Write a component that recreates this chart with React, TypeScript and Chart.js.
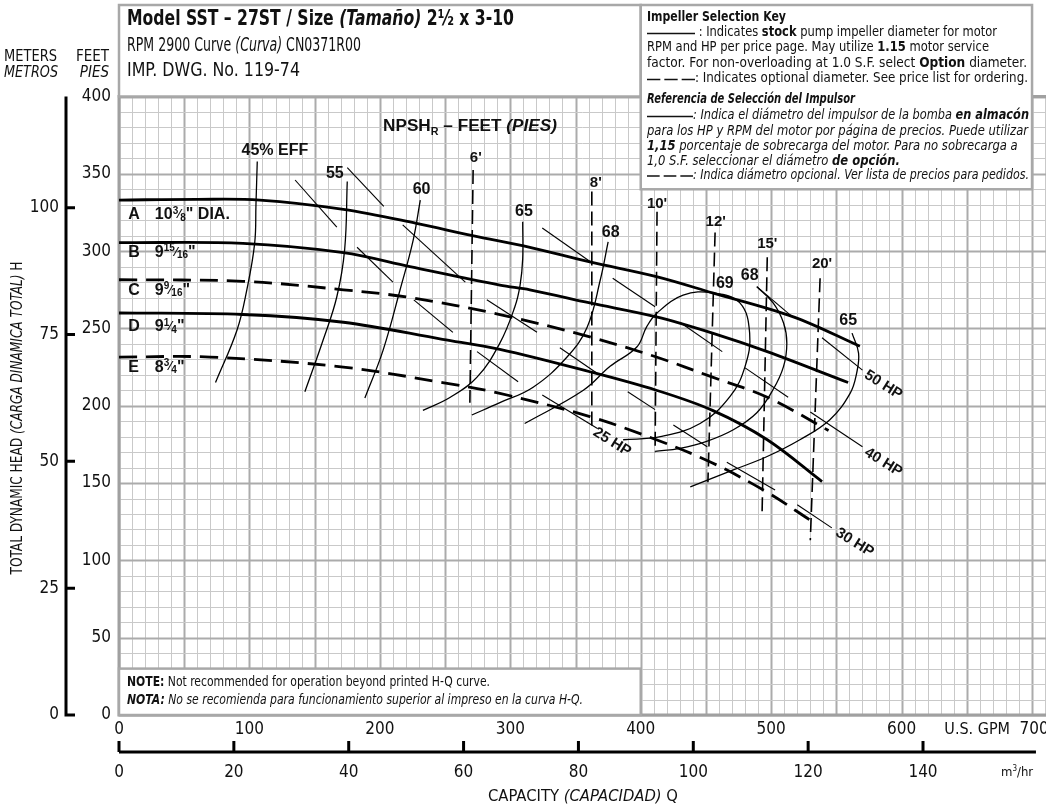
import React, { useEffect, useRef } from "react";
import { Chart, registerables } from "chart.js";

Chart.register(...registerables);

// ---------- axis values ----------
const gpmTicks = [0, 100, 200, 300, 400, 500, 600, 700];
const m3hTicks = [0, 20, 40, 60, 80, 100, 120, 140];
const feetTicks = [0, 50, 100, 150, 200, 250, 300, 350, 400];
const meterTicks = [0, 25, 50, 75, 100];
const GPM_PER_M3H = 4.4029;
const FT_PER_M = 3.28084;

type P = [number, number];

// ---------- head-capacity curves (GPM, feet) ----------
const headA: P[] = [[0, 333], [60, 333.5], [108, 333], [172, 327], [228, 318], [271, 310], [315, 302.5], [361, 293], [412, 283.5], [455, 273], [517, 257.5], [568, 238.5]];
const headB: P[] = [[0, 305.5], [95, 305], [172, 299], [223, 290], [292, 278], [315, 275], [361, 266.5], [412, 257.5], [455, 247], [497, 235], [559, 215]];
const headC: P[] = [[0, 281.5], [95, 280.5], [172, 275], [223, 270], [292, 259], [361, 244.5], [412, 231.5], [455, 218.5], [497, 205.5], [544, 184]];
const headD: P[] = [[0, 260], [95, 259], [172, 254], [248, 243], [292, 236.5], [361, 222], [412, 210], [455, 197], [497, 178], [539, 151]];
const headE: P[] = [[0, 231.5], [70, 231.5], [172, 225], [248, 215], [292, 208], [361, 193], [412, 178], [455, 163], [497, 144], [530, 126]];
const diaLetters = ["A", "B", "C", "D", "E"];

// ---------- efficiency curves ----------
const eff45: P[] = [[106, 358], [105, 330], [104, 305], [98, 275], [90.5, 249], [74, 215]];
const eff55: P[] = [[175, 345], [173, 301], [167, 270.5], [156.5, 242.5], [142.5, 209]];
const eff60: P[] = [[231, 333], [225.5, 307], [215.5, 275], [202.5, 236], [188.5, 205]];
const eff65a: P[] = [[309.5, 319], [309.5, 295], [307.5, 278], [303.5, 264], [292, 240.5], [274.5, 218.5], [254, 205.5], [233, 197]];
const eff68a: P[] = [[375, 306], [369, 281.5], [359, 251], [343.5, 231.5], [317.5, 212], [292, 202], [270.5, 194]];
const eff69: P[] = [[311, 188.5], [356, 210], [376.5, 225.5], [397, 238], [404.5, 251], [412.5, 260], [432.5, 271.5], [455.5, 273], [476, 266.5], [483.5, 247], [480, 225.5], [468.5, 206], [445.5, 188.5], [415, 180], [386.5, 178]];
const eff68b: P[] = [[489, 277], [501.5, 266.5], [509.5, 253.5], [512, 240.5], [509.5, 225.5], [501.5, 210.5], [489, 195.5], [471, 184.5], [450.5, 177], [430, 172.5], [411, 170.5]];
const eff65b: P[] = [[562, 247], [567, 234], [565.5, 221], [560.5, 208], [545, 191], [522, 178], [496.5, 167], [471, 158.5], [438, 147.5]];
const effNames = ["45% EFF", "55", "60", "65", "68", "69", "68", "65"];

// ---------- NPSHr lines ----------
const npsh6: P[] = [[271.5, 352.5], [269, 202]];
const npsh8: P[] = [[362.5, 338.5], [362.5, 185.5]];
const npsh10: P[] = [[412.5, 325.5], [411, 170]];
const npsh12: P[] = [[457, 312], [451.5, 150.5]];
const npsh15: P[] = [[497, 296], [493, 129.5]];
const npsh20: P[] = [[537.5, 282.5], [530, 113]];
const npshNames = ["6'", "8'", "10'", "12'", "15'", "20'"];

// ---------- motor HP limit segments ----------
const hpSegments: P[][] = [
  [[135, 346], [167, 315.5]],
  [[175, 354], [203, 329]],
  [[182.5, 302.5], [210, 280]],
  [[217.5, 317], [265.5, 280]],
  [[226, 268.5], [256, 247.5]],
  [[282, 268.5], [320.5, 247.5]],
  [[274.5, 235], [306, 215.5]],
  [[324.5, 315], [362.5, 292.5]],
  [[378.5, 282.5], [411, 264]],
  [[338, 237.5], [366.5, 221]],
  [[430, 254], [462.5, 235]],
  [[390, 209], [411, 197.5]],
  [[324.5, 207], [366.5, 185.5]],
  [[425, 187.5], [451, 173.5]],
  [[480, 224.5], [513, 205.5]],
  [[539, 244], [570, 223]],
  [[530, 196], [570, 173.5]],
  [[466, 163.5], [503, 145.5]],
  [[520, 136], [546.5, 121]],
  [[489, 277], [517, 257]],
];
const hpNames = ["25 HP", "30 HP", "40 HP", "50 HP"];

// ---------- annotation anchors (GPM, feet) ----------
const effLabelAt: P[] = [[119.5, 365], [165.5, 350], [232, 340], [310.5, 325.5], [377, 312], [464.5, 279], [483.5, 284], [559, 255]];
const npshLabelAt: P[] = [[273.5, 360], [365.5, 344], [412.5, 330.5], [457.5, 319], [497, 304.5], [539, 291.5]];
const hpLabelAt: P[] = [[378, 176.5], [564, 111.5], [586, 163.5], [586, 213.5]];
const diaLabelAt = [323.5, 299, 274.5, 251, 225];

const NARROW = '"Liberation Sans Narrow", "DejaVu Sans Condensed", "Arial Narrow", sans-serif';
const SANS = '"Liberation Sans", Arial, Helvetica, sans-serif';

type Seg = { t?: string; b?: boolean; i?: boolean; size?: number; dy?: number; line?: "solid" | "dash"; w?: number };

function fnt(s: Seg, size: number, fam: string) {
  return `${s.i ? "italic " : ""}${s.b ? "bold " : ""}${s.size ?? size}px ${fam}`;
}

function measure(ctx: CanvasRenderingContext2D, segs: Seg[], size: number, fam: string) {
  let textW = 0;
  let fixedW = 0;
  const ws = segs.map((s) => {
    if (s.line) {
      fixedW += s.w ?? 30;
      return s.w ?? 30;
    }
    ctx.font = fnt(s, size, fam);
    const w = ctx.measureText(s.t ?? "").width;
    textW += w;
    return w;
  });
  return { ws, textW, fixedW };
}

function rich(
  ctx: CanvasRenderingContext2D,
  segs: Seg[],
  x: number,
  y: number,
  size: number,
  fam: string,
  opt: { end?: number; width?: number; sx?: number; align?: "left" | "center" | "right"; rot?: number } = {}
) {
  ctx.save();
  ctx.fillStyle = "#111";
  ctx.textBaseline = "middle";
  ctx.textAlign = "left";
  const { ws, textW, fixedW } = measure(ctx, segs, size, fam);
  let target: number | undefined = opt.width;
  if (opt.end !== undefined) target = opt.end - x;
  let sx = opt.sx ?? 1;
  if (target !== undefined && textW > 0) sx = (target - fixedW) / textW;
  const total = textW * sx + fixedW;
  ctx.translate(x, y);
  if (opt.rot) ctx.rotate(opt.rot);
  let cx = 0;
  if (opt.align === "center") cx = -total / 2;
  else if (opt.align === "right") cx = -total;
  segs.forEach((s, k) => {
    if (s.line) {
      ctx.save();
      ctx.strokeStyle = "#111";
      ctx.lineWidth = 1.6;
      if (s.line === "dash") ctx.setLineDash([(ws[k] - 8) / 3, 4]);
      ctx.beginPath();
      ctx.moveTo(cx, 1);
      ctx.lineTo(cx + ws[k], 1);
      ctx.stroke();
      ctx.restore();
      cx += ws[k];
      return;
    }
    ctx.save();
    ctx.translate(cx, s.dy ?? 0);
    ctx.scale(sx, 1);
    ctx.font = fnt(s, size, fam);
    ctx.fillText(s.t ?? "", 0, 0);
    ctx.restore();
    cx += ws[k] * sx;
  });
  ctx.restore();
}

const diaText: Seg[][] = [
  [{ t: "10", b: true }, { t: "3", b: true, size: 10, dy: -4 }, { t: "\u2044", b: true, size: 12 }, { t: "8", b: true, size: 10, dy: 3 }, { t: '" DIA.', b: true }],
  [{ t: "9", b: true }, { t: "15", b: true, size: 10, dy: -4 }, { t: "\u2044", b: true, size: 12 }, { t: "16", b: true, size: 10, dy: 3 }, { t: '"', b: true }],
  [{ t: "9", b: true }, { t: "9", b: true, size: 10, dy: -4 }, { t: "\u2044", b: true, size: 12 }, { t: "16", b: true, size: 10, dy: 3 }, { t: '"', b: true }],
  [{ t: "9", b: true }, { t: "1", b: true, size: 10, dy: -4 }, { t: "\u2044", b: true, size: 12 }, { t: "4", b: true, size: 10, dy: 3 }, { t: '"', b: true }],
  [{ t: "8", b: true }, { t: "3", b: true, size: 10, dy: -4 }, { t: "\u2044", b: true, size: 12 }, { t: "4", b: true, size: 10, dy: 3 }, { t: '"', b: true }],
];

// lines with "end" are fitted to that x; lines without take the scale of the Spanish reference line
const keyLines: { segs: Seg[]; y: number; end?: number; size: number }[] = [
  { segs: [{ t: "Impeller Selection Key", b: true }], y: 17, end: 786, size: 14 },
  { segs: [{ line: "solid", w: 48 }, { t: " : Indicates " }, { t: "stock", b: true }, { t: " pump impeller diameter for motor" }], y: 32.5, end: 997, size: 13.5 },
  { segs: [{ t: "RPM and HP per price page. May utilize " }, { t: "1.15", b: true }, { t: " motor service" }], y: 47.5, end: 989, size: 13.5 },
  { segs: [{ t: "factor. For non-overloading at 1.0 S.F. select " }, { t: "Option", b: true }, { t: " diameter." }], y: 63, end: 1027, size: 13.5 },
  { segs: [{ line: "dash", w: 48 }, { t: ": Indicates optional diameter. See price list for ordering." }], y: 78.5, end: 1028, size: 13.5 },
  { segs: [{ t: "Referencia de Selección del Impulsor", b: true, i: true }], y: 99, end: 855, size: 14 },
  { segs: [{ line: "solid", w: 46 }, { t: ": Indica el diámetro del impulsor de la bomba ", i: true }, { t: "en almacón", b: true, i: true }], y: 115.5, end: 1029, size: 13.5 },
  { segs: [{ t: "para los HP y RPM del motor por página de precios. Puede utilizar", i: true }], y: 131, end: 1028, size: 13.5 },
  { segs: [{ t: "1,15", b: true, i: true }, { t: " porcentaje de sobrecarga del motor. Para no sobrecarga a", i: true }], y: 146, size: 13.5 },
  { segs: [{ t: "1,0 S.F. seleccionar el diámetro ", i: true }, { t: "de opción.", b: true, i: true }], y: 161, size: 13.5 },
  { segs: [{ line: "dash", w: 46 }, { t: ": Indica diámetro opcional. Ver lista de precios para pedidos.", i: true }], y: 175, end: 1029, size: 13.5 },
];
const KEY_X = 647;

const decor = {
  id: "pumpDecor",
  beforeDraw(chart: any) {
    const ctx: CanvasRenderingContext2D = chart.ctx;
    ctx.save();
    ctx.fillStyle = "#fff";
    ctx.fillRect(0, 0, chart.width, chart.height);
    ctx.restore();
  },
  beforeDatasetsDraw(chart: any) {
    const ctx: CanvasRenderingContext2D = chart.ctx;
    const xs = chart.scales.x;
    const ys = chart.scales.y;
    const { left, right, top, bottom } = chart.chartArea;
    ctx.save();
    for (let v = 0; v <= xs.max + 0.01; v += 10) {
      const px = Math.round(xs.getPixelForValue(v)) + 0.5;
      const major = v % 50 === 0;
      ctx.strokeStyle = major ? "#ababab" : "#c9c9c9";
      ctx.lineWidth = major ? 2 : 1;
      ctx.beginPath();
      ctx.moveTo(px, top);
      ctx.lineTo(px, bottom);
      ctx.stroke();
    }
    for (let v = 0; v <= 400; v += 10) {
      const py = Math.round(ys.getPixelForValue(v)) + 0.5;
      const major = v % 50 === 0;
      ctx.strokeStyle = major ? "#ababab" : "#c9c9c9";
      ctx.lineWidth = major ? 2 : 1;
      ctx.beginPath();
      ctx.moveTo(left, py);
      ctx.lineTo(right, py);
      ctx.stroke();
    }
    ctx.strokeStyle = "#a0a0a0";
    ctx.lineWidth = 3;
    ctx.beginPath();
    ctx.moveTo(right, top);
    ctx.lineTo(left, top);
    ctx.lineTo(left, bottom);
    ctx.lineTo(right, bottom);
    ctx.stroke();

    const x400 = xs.getPixelForValue(400);
    const x700 = xs.getPixelForValue(700);
    const y340 = ys.getPixelForValue(340);
    const y30 = ys.getPixelForValue(30);
    ctx.lineWidth = 2.5;
    ctx.strokeStyle = "#a8a8a8";
    ctx.fillStyle = "#fff";
    ctx.fillRect(left, 5, x400 - left, top - 5);
    ctx.strokeRect(left, 5, x400 - left, top - 5);
    ctx.fillRect(x400, 5, x700 - x400, y340 - 5);
    ctx.strokeRect(x400, 5, x700 - x400, y340 - 5);
    ctx.fillRect(left, y30, x400 - left, bottom - y30);
    ctx.strokeRect(left, y30, x400 - left, bottom - y30);
    ctx.restore();
  },
  afterDatasetsDraw(chart: any) {
    const ctx: CanvasRenderingContext2D = chart.ctx;
    const xs = chart.scales.x;
    const ys = chart.scales.y;
    const X = (v: number) => xs.getPixelForValue(v);
    const Y = (v: number) => ys.getPixelForValue(v);

    // title
    rich(ctx, [{ t: "Model SST \u2013 27ST / Size ", b: true }, { t: "(Tamaño)", b: true, i: true }, { t: " 2½ x 3-10", b: true }], 127, 20, 21, NARROW, { end: 514 });
    rich(ctx, [{ t: "RPM 2900 Curve " }, { t: "(Curva)", i: true }, { t: " CN0371R00" }], 127, 46, 19, NARROW, { end: 361 });
    rich(ctx, [{ t: "IMP. DWG. No. 119-74" }], 127, 71, 19, NARROW, { end: 300 });

    // key box text
    const refLine = keyLines[7];
    const m = measure(ctx, refLine.segs, refLine.size, NARROW);
    const esSx = ((refLine.end as number) - KEY_X - m.fixedW) / m.textW;
    keyLines.forEach((l) => {
      if (l.end !== undefined) rich(ctx, l.segs, KEY_X, l.y, l.size, NARROW, { end: l.end });
      else rich(ctx, l.segs, KEY_X, l.y, l.size, NARROW, { sx: esSx });
    });

    // note
    const y30 = Y(30);
    rich(ctx, [{ t: "NOTE:", b: true }, { t: " Not recommended for operation beyond printed H-Q curve." }], 127, y30 + 14, 14, NARROW, { end: 490 });
    rich(ctx, [{ t: "NOTA:", b: true, i: true }, { t: " No se recomienda para funcionamiento superior al impreso en la curva H-Q.", i: true }], 127, y30 + 32, 14, NARROW, { end: 583 });

    // left header
    rich(ctx, [{ t: "METERS" }], 4, 57, 15, NARROW, { end: 57 });
    rich(ctx, [{ t: "METROS", i: true }], 4, 73, 15, NARROW, { end: 58 });
    rich(ctx, [{ t: "FEET" }], 109, 57, 15, NARROW, { align: "right" });
    rich(ctx, [{ t: "PIES", i: true }], 109, 73, 15, NARROW, { align: "right" });

    feetTicks.forEach((v) => rich(ctx, [{ t: String(v) }], 111, Y(v), 17, NARROW, { align: "right" }));

    // meters axis
    ctx.save();
    ctx.strokeStyle = "#000";
    ctx.lineWidth = 3;
    ctx.beginPath();
    ctx.moveTo(66, Y(400));
    ctx.lineTo(66, Y(0));
    ctx.lineTo(75, Y(0));
    meterTicks.forEach((mv) => {
      ctx.moveTo(66, Y(mv * FT_PER_M));
      ctx.lineTo(75, Y(mv * FT_PER_M));
    });
    ctx.stroke();
    ctx.restore();
    meterTicks.forEach((mv) => rich(ctx, [{ t: String(mv) }], 59, Y(mv * FT_PER_M), 17, NARROW, { align: "right" }));

    rich(ctx, [{ t: "TOTAL DYNAMIC HEAD " }, { t: "(CARGA DINAMICA TOTAL)", i: true }, { t: " H" }], 18, 418, 15, NARROW, { align: "center", width: 313, rot: -Math.PI / 2 });

    // GPM labels
    gpmTicks.forEach((v) => {
      const px = v === 700 ? X(v) + 2 : X(v);
      rich(ctx, [{ t: String(v) }], px, 730, 17, NARROW, { align: "center" });
    });
    rich(ctx, [{ t: "U.S. GPM" }], 1010, 730, 16, NARROW, { align: "right" });

    // m3/hr axis
    const yAx = 752;
    ctx.save();
    ctx.strokeStyle = "#000";
    ctx.lineWidth = 3;
    ctx.beginPath();
    ctx.moveTo(X(0), yAx);
    ctx.lineTo(X(703), yAx);
    m3hTicks.forEach((q) => {
      ctx.moveTo(X(q * GPM_PER_M3H), yAx);
      ctx.lineTo(X(q * GPM_PER_M3H), yAx - 11);
    });
    ctx.stroke();
    ctx.restore();
    m3hTicks.forEach((q) => rich(ctx, [{ t: String(q) }], X(q * GPM_PER_M3H), 773, 17, NARROW, { align: "center" }));
    rich(ctx, [{ t: "m" }, { t: "3", size: 8, dy: -4 }, { t: "/hr" }], 1001, 773, 13, NARROW, {});
    rich(ctx, [{ t: "CAPACITY " }, { t: "(CAPACIDAD)", i: true }, { t: " Q" }], 583, 797, 15, NARROW, { align: "center", width: 190 });

    // diameter labels
    diaLetters.forEach((d, k) => {
      rich(ctx, [{ t: d, b: true }], X(7), Y(diaLabelAt[k]), 16, SANS, {});
      rich(ctx, diaText[k], X(27.5), Y(diaLabelAt[k]), 16, SANS, {});
    });

    effNames.forEach((n, k) => rich(ctx, [{ t: n, b: true }], X(effLabelAt[k][0]), Y(effLabelAt[k][1]), 16, SANS, { align: "center" }));
    npshNames.forEach((n, k) => rich(ctx, [{ t: n, b: true }], X(npshLabelAt[k][0]), Y(npshLabelAt[k][1]), 15, SANS, { align: "center" }));
    rich(ctx, [{ t: "NPSH", b: true }, { t: "R", b: true, size: 10, dy: 5 }, { t: " \u2013 FEET ", b: true }, { t: "(PIES)", b: true, i: true }], 383, 127, 16, SANS, { end: 557 });
    hpNames.forEach((n, k) => rich(ctx, [{ t: n, b: true }], X(hpLabelAt[k][0]), Y(hpLabelAt[k][1]), 15, SANS, { align: "center", rot: (32 * Math.PI) / 180 }));
  },
};

function ds(pts: P[], width: number, dash: number[] = [], tension = 0.35) {
  return {
    data: pts.map(([x, y]) => ({ x, y })),
    borderColor: "#000",
    backgroundColor: "#000",
    borderWidth: width,
    borderDash: dash,
    pointRadius: 0,
    tension,
    fill: false,
  };
}

export default function App() {
  const ref = useRef<HTMLCanvasElement | null>(null);
  useEffect(() => {
    document.body.style.margin = "0";
    const canvas = ref.current!;
    const datasets: any[] = [
      ds(headA, 2.8),
      ds(headB, 2.8),
      ds(headC, 2.8, [18, 9]),
      ds(headD, 2.8),
      ds(headE, 2.8, [18, 9]),
      ...[eff45, eff55, eff60, eff65a, eff68a, eff69, eff68b, eff65b].map((c) => ds(c, 1.3, [], 0.4)),
      ...[npsh6, npsh8, npsh10, npsh12, npsh15, npsh20].map((c) => ds(c, 1.6, [14, 6], 0)),
      ...hpSegments.map((c) => ds(c, 1.1, [], 0)),
    ];
    const chart = new Chart(canvas, {
      type: "line",
      data: { datasets },
      options: {
        responsive: false,
        animation: false,
        events: [],
        layout: { padding: { left: 119, top: 96.5, right: 0, bottom: 90 } },
        plugins: { legend: { display: false }, tooltip: { enabled: false } },
        scales: {
          x: { type: "linear", min: 0, max: 710.7, display: false },
          y: { type: "linear", min: 0, max: 400, display: false },
        },
      },
      plugins: [decor],
    });
    return () => chart.destroy();
  }, []);
  return (
    <div style={{ position: "absolute", left: 0, top: 0, width: 1046, height: 805 }}>
      <canvas ref={ref} width={1046} height={805} style={{ display: "block" }} />
    </div>
  );
}
